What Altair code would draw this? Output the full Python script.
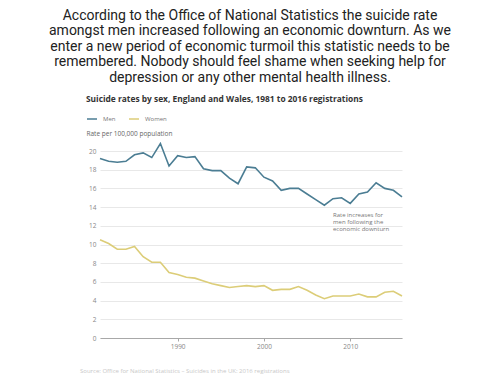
import altair as alt
import pandas as pd

years = list(range(1981, 2017))
men = [19.2, 18.9, 18.8, 18.9, 19.6, 19.8, 19.3, 20.8, 18.4, 19.5,
       19.3, 19.4, 18.1, 17.9, 17.9, 17.1, 16.5, 18.3, 18.2, 17.2,
       16.8, 15.8, 16.0, 16.0, 15.4, 14.8, 14.2, 14.9, 15.0, 14.4,
       15.4, 15.6, 16.6, 16.0, 15.8, 15.1]
women = [10.5, 10.1, 9.5, 9.5, 9.8, 8.7, 8.1, 8.1, 7.0, 6.8,
         6.5, 6.4, 6.1, 5.8, 5.6, 5.4, 5.5, 5.6, 5.5, 5.6,
         5.1, 5.2, 5.2, 5.5, 5.1, 4.6, 4.2, 4.5, 4.5, 4.5,
         4.7, 4.4, 4.4, 4.9, 5.0, 4.5]
series = ["Men", "Women"]
colors = ["#4b7d93", "#dccd78"]
y_ticks = [0, 2, 4, 6, 8, 10, 12, 14, 16, 18, 20]
x_ticks = [1990, 2000, 2010]

intro = ("According to the Office of National Statistics the suicide rate\n"
         "amongst men increased following an economic downturn. As we\n"
         "enter a new period of economic turmoil this statistic needs to be\n"
         "remembered. Nobody should feel shame when seeking help for\n"
         "depression or any other mental health illness.")
chart_title = "Suicide rates by sex, England and Wales, 1981 to 2016 registrations"
note = "Rate increases for\nmen following the\neconomic downturn"
source = "Source: Office for National Statistics \u2013 Suicides in the UK: 2016 registrations"

df = pd.DataFrame({
    "year": years * 2,
    "rate": men + women,
    "sex": ["Men"] * len(years) + ["Women"] * len(years),
})

W, H = 302, 187
PL, PT = 92, 143

lines = alt.Chart(df).mark_line(strokeWidth=1.6).encode(
    x=alt.X("year:Q", scale=alt.Scale(domain=[1981, 2016], nice=False),
            axis=alt.Axis(values=x_ticks, format="d", title=None, grid=False,
                          domainColor="#a8a8a8", tickColor="#a8a8a8", tickSize=3,
                          labelFontSize=6.5, labelColor="#888", labelPadding=2,
                          labelFont="Open Sans")),
    y=alt.Y("rate:Q", scale=alt.Scale(domain=[0, 20], nice=False),
            axis=alt.Axis(values=y_ticks, title="Rate per 100,000 population",
                          titleAngle=0, titleAlign="left", titleBaseline="middle",
                          titleX=-14, titleY=-18, titleFontSize=6.5,
                          titleFontWeight="normal", titleColor="#666",
                          titleFont="Open Sans",
                          domain=False, ticks=False, gridColor="#e8e8e8",
                          labelFontSize=6.5, labelColor="#888", labelPadding=4,
                          labelFont="Open Sans")),
    color=alt.Color("sex:N", scale=alt.Scale(domain=series, range=colors),
                    legend=alt.Legend(title=None, orient="none", direction="horizontal",
                                      legendX=-14, legendY=-38,
                                      symbolType="stroke", symbolSize=100,
                                      symbolStrokeWidth=1.5, labelFontSize=6,
                                      labelColor="#777", labelFont="Open Sans",
                                      labelOffset=5, columnPadding=10)),
)

def txt(text, x, y, **kw):
    return alt.Chart(pd.DataFrame({"t": [text]})).mark_text(**kw).encode(
        x=alt.value(x), y=alt.value(y), text="t:N")

intro_t = txt(intro, 150, 19.5 - 8 - PT, lineBreak="\n", lineHeight=15.5,
              align="center", baseline="alphabetic", font="Roboto",
              fontSize=14, color="#222")
title_t = txt(chart_title, -14, 99 - 8 - PT, align="left", baseline="middle",
              font="Open Sans", fontSize=8.4, fontWeight="bold", color="#333")
note_t = txt(note, 233, 215 - 8 - PT, lineBreak="\n", lineHeight=7,
             align="left", baseline="middle", font="Open Sans", fontSize=6,
             color="#777")
source_t = txt(source, -20, 371 - 8 - PT, align="left", baseline="middle",
               font="Open Sans", fontSize=6, color="#c8c8c8")

chart = alt.layer(lines, intro_t, title_t, note_t, source_t).properties(
    width=W, height=H,
    autosize=alt.AutoSizeParams(type="none"),
    padding={"left": PL, "top": PT, "right": 90, "bottom": 40},
).configure(background="white").configure_view(stroke=None)

chart.save("out.html", embed_options={"renderer": "svg", "actions": False})
